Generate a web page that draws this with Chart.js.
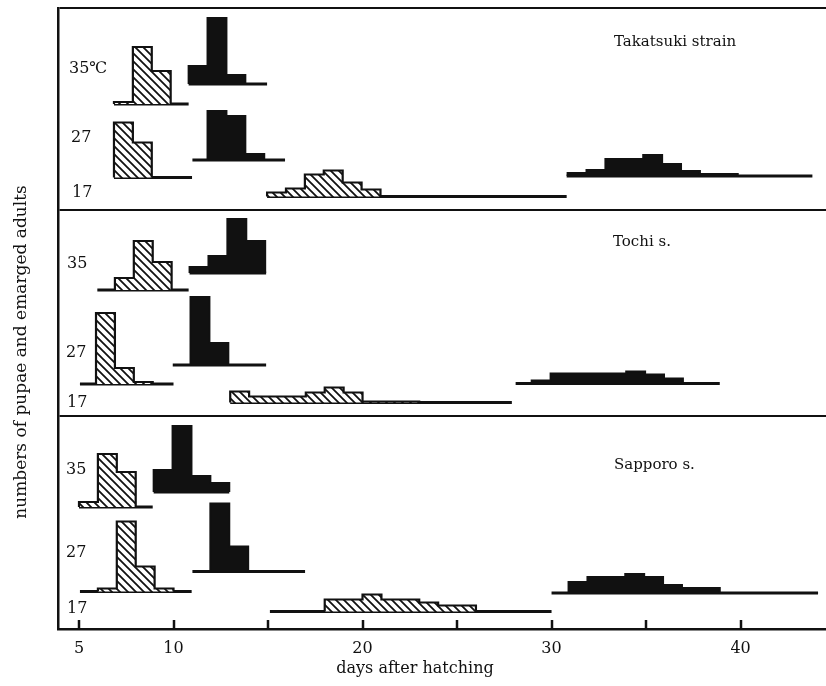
<!DOCTYPE html>
<html>
<head>
<meta charset="utf-8">
<script src="https://cdn.jsdelivr.net/npm/chart.js@4/dist/chart.umd.min.js"></script>
<style>
  html, body { margin: 0; padding: 0; background: #fff; }
  #wrap { width: 826px; height: 686px; position: relative; }
</style>
</head>
<body>
<div id="wrap"><canvas id="c" width="826" height="686"></canvas></div>
<script>
// ---------------- DATA ----------------
const strainNames = ["Takatsuki strain", "Tochi s.", "Sapporo s."];
const rowLabels = [["35\u2103", "27", "17"], ["35", "27", "17"], ["35", "27", "17"]];
const xTickValues = [5, 10, 15, 20, 25, 30, 35, 40];
const xTickLabels = ["5", "10", "", "20", "", "30", "", "40"];
const xTitle = "days after hatching";
const yTitle = "numbers of pupae and emarged adults";

// relative numbers per 1-day class (order of temperatures: 35, 27, 17)
// Takatsuki strain
const takPupae35 = [2, 57, 33];
const takPupae27 = [55, 35];
const takPupae17 = [4, 8, 22, 26, 14, 7];
const takAdult35 = [18, 66, 9];
const takAdult27 = [49, 44, 6];
const takAdult17 = [3, 6, 17, 17, 21, 12, 5, 2, 2];
// Tochi s.
const tocPupae35 = [12, 49, 28];
const tocPupae27 = [71, 16, 2];
const tocPupae17 = [11, 6, 6, 6, 10, 15, 10, 1, 1, 1];
const tocAdult35 = [6, 17, 54, 32];
const tocAdult27 = [68, 22];
const tocAdult17 = [3, 10, 10, 10, 10, 12, 9, 5];
// Sapporo s.
const sapPupae35 = [5, 53, 35];
const sapPupae27 = [3, 70, 25, 3];
const sapPupae17 = [12, 12, 17, 12, 12, 9, 6, 6];
const sapAdult35 = [22, 66, 16, 9];
const sapAdult27 = [68, 25];
const sapAdult17 = [11, 16, 16, 19, 16, 8, 5, 5];

// day at which the first class of each histogram begins (35, 27, 17)
const takPupaeFirstDay = [6.85, 6.85, 14.95];
const takAdultFirstDay = [10.8, 11.8, 30.85];
const tocPupaeFirstDay = [6.9, 5.9, 13.0];
const tocAdultFirstDay = [10.85, 10.9, 28.95];
const sapPupaeFirstDay = [5.0, 6.0, 18.0];
const sapAdultFirstDay = [8.95, 11.95, 30.9];

// observation period drawn as the base line [from, to] (35, 27, 17)
const takPupaeSpan = [[6.85, 10.8], [6.85, 10.98], [14.95, 30.8]];
const takAdultSpan = [[10.8, 14.95], [11.0, 15.9], [30.8, 43.8]];
const tocPupaeSpan = [[5.97, 10.8], [5.05, 10.0], [13.0, 27.9]];
const tocAdultSpan = [[10.85, 14.9], [9.96, 14.9], [28.1, 38.9]];
const sapPupaeSpan = [[5.0, 8.9], [5.05, 10.96], [15.1, 30.0]];
const sapAdultSpan = [[8.95, 12.95], [11.0, 16.96], [30.0, 44.1]];

// ---------------- LAYOUT (positions, not data) ----------------
const X_MIN = 3.889, X_MAX = 44.52;
const Y_MAX = 621;                       // vertical units of the drawing
const panelEdges = [213, 419, 621];      // separators between strain panels
const pupaeBase = [[525, 451.5, 432.5], [339, 245, 226.5], [122, 37.5, 17.5]];
const adultBase = [[545, 469, 453], [356, 264, 245.5], [137, 57.5, 36]];
const labelPos = [[[69, 69], [71, 137.5], [72, 192.5]],
                  [[67, 264], [66, 352.5], [67, 402.5]],
                  [[66, 470], [66, 552.5], [67, 609]]];
const titlePos = [[614, 42], [613, 242], [614, 465]];
const SERIF = '"DejaVu Serif", "Liberation Serif", serif';

// ---------------- build datasets ----------------
function hatchPattern() {
  const s = 8;
  const c = document.createElement('canvas');
  c.width = s; c.height = s;
  const g = c.getContext('2d');
  g.fillStyle = '#fff'; g.fillRect(0, 0, s, s);
  g.strokeStyle = '#111'; g.lineWidth = 1.8;
  g.beginPath();
  g.moveTo(-1, -1); g.lineTo(s + 1, s + 1);
  g.moveTo(-1, s - 1); g.lineTo(1, s + 1);
  g.moveTo(s - 1, -1); g.lineTo(s + 1, 1);
  g.stroke();
  return g.createPattern(c, 'repeat');
}
const hatch = hatchPattern();

function histPoints(first, counts, base) {
  const pts = [{ x: first, y: base }];
  counts.forEach((c, i) => {
    pts.push({ x: first + i, y: base + c });
    pts.push({ x: first + i + 1, y: base + c });
  });
  pts.push({ x: first + counts.length, y: base });
  return pts;
}

const pupaeCounts = [[takPupae35, takPupae27, takPupae17], [tocPupae35, tocPupae27, tocPupae17], [sapPupae35, sapPupae27, sapPupae17]];
const adultCounts = [[takAdult35, takAdult27, takAdult17], [tocAdult35, tocAdult27, tocAdult17], [sapAdult35, sapAdult27, sapAdult17]];
const pupaeFirst = [takPupaeFirstDay, tocPupaeFirstDay, sapPupaeFirstDay];
const adultFirst = [takAdultFirstDay, tocAdultFirstDay, sapAdultFirstDay];
const pupaeSpan = [takPupaeSpan, tocPupaeSpan, sapPupaeSpan];
const adultSpan = [takAdultSpan, tocAdultSpan, sapAdultSpan];

const datasets = [];
for (let s = 0; s < 3; s++) {
  for (let t = 0; t < 3; t++) {
    // pupae (hatched)
    const pb = pupaeBase[s][t];
    datasets.push({
      data: histPoints(pupaeFirst[s][t], pupaeCounts[s][t], pb),
      borderColor: '#111', borderWidth: 2.2, backgroundColor: hatch,
      fill: { value: pb }, pointRadius: 0, tension: 0, borderJoinStyle: 'miter'
    });
    datasets.push({
      data: [{ x: pupaeSpan[s][t][0], y: pb }, { x: pupaeSpan[s][t][1], y: pb }],
      borderColor: '#111', borderWidth: 3, fill: false, pointRadius: 0
    });
    // adults (black)
    const ab = adultBase[s][t];
    datasets.push({
      data: histPoints(adultFirst[s][t], adultCounts[s][t], ab),
      borderColor: '#111', borderWidth: 2, backgroundColor: '#111',
      fill: { value: ab }, pointRadius: 0, tension: 0, borderJoinStyle: 'miter'
    });
    datasets.push({
      data: [{ x: adultSpan[s][t][0], y: ab }, { x: adultSpan[s][t][1], y: ab }],
      borderColor: '#111', borderWidth: 3, fill: false, pointRadius: 0
    });
  }
}

const decor = {
  id: 'decor',
  afterDraw(chart) {
    const { ctx, chartArea: a, scales: { x } } = chart;
    ctx.save();
    // inward tick marks
    ctx.strokeStyle = '#111'; ctx.lineWidth = 2.5;
    xTickValues.forEach(v => {
      const px = Math.round(x.getPixelForValue(v));
      ctx.beginPath(); ctx.moveTo(px, a.bottom); ctx.lineTo(px, a.bottom - 9); ctx.stroke();
    });
    ctx.fillStyle = '#111';
    ctx.textBaseline = 'middle';
    ctx.textAlign = 'left';
    ctx.font = '16px ' + SERIF;
    for (let s = 0; s < 3; s++) {
      for (let t = 0; t < 3; t++) {
        ctx.fillText(rowLabels[s][t], labelPos[s][t][0], labelPos[s][t][1]);
      }
    }
    ctx.font = '15px ' + SERIF;
    for (let s = 0; s < 3; s++) {
      ctx.fillText(strainNames[s], titlePos[s][0], titlePos[s][1]);
    }
    // axis titles
    ctx.font = '16px ' + SERIF;
    ctx.textAlign = 'center';
    ctx.fillText(xTitle, 415, 669);
    ctx.font = '17px ' + SERIF;
    ctx.translate(22, 352);
    ctx.rotate(-Math.PI / 2);
    ctx.fillText(yTitle, 0, 0);
    ctx.restore();
  }
};

new Chart(document.getElementById('c'), {
  type: 'line',
  data: { datasets },
  options: {
    responsive: false,
    animation: false,
    events: [],
    layout: { padding: { left: 58, top: 8, right: 0, bottom: 0 } },
    plugins: { legend: { display: false }, tooltip: { enabled: false } },
    scales: {
      x: {
        type: 'linear', min: X_MIN, max: X_MAX,
        afterBuildTicks: s => { s.ticks = xTickValues.map(v => ({ value: v })); },
        afterFit: s => { s.height = 57; },
        ticks: {
          callback: (v, i) => xTickLabels[i],
          autoSkip: false, maxRotation: 0, padding: 10, color: '#111',
          font: { family: SERIF, size: 16 }
        },
        grid: { drawOnChartArea: false, drawTicks: false },
        border: { display: true, color: '#111', width: 2.5 }
      },
      y: {
        type: 'linear', min: 0, max: Y_MAX,
        afterBuildTicks: s => { s.ticks = panelEdges.map(v => ({ value: v })); },
        afterFit: s => { s.width = 0; },
        ticks: { display: false },
        grid: { drawTicks: false, color: '#111', lineWidth: 2 },
        border: { display: true, color: '#111', width: 2.5 }
      }
    }
  },
  plugins: [decor]
});
</script>
</body>
</html>
